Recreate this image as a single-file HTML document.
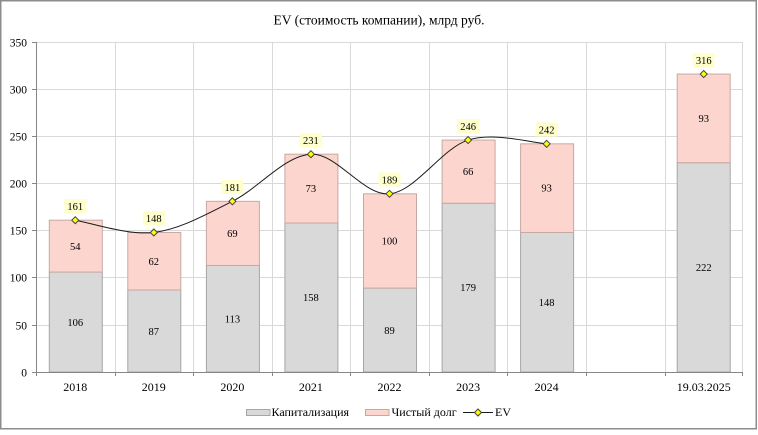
<!DOCTYPE html>
<html><head><meta charset="utf-8"><style>
html,body{margin:0;padding:0;background:#fff;}
svg, svg text{font-family:"Liberation Serif","Times New Roman",Times,"DejaVu Serif",serif;}
</style></head><body>
<svg width="758" height="430" viewBox="0 0 758 430" xmlns="http://www.w3.org/2000/svg" font-family="'Liberation Serif', 'Times New Roman', Times, serif">
<rect x="0.75" y="0.75" width="755.5" height="428" fill="#fff" stroke="#8c8c8c" stroke-width="1.5"/>
<text x="379" y="24.5" font-size="13.5" text-anchor="middle" fill="#000">EV (стоимость компании), млрд руб.</text>
<!-- grid -->
<g stroke="#d9d9d9" stroke-width="1">
<line x1="36" y1="42.5" x2="743" y2="42.5"/>
<line x1="36" y1="89.5" x2="743" y2="89.5"/>
<line x1="36" y1="136.5" x2="743" y2="136.5"/>
<line x1="36" y1="183.5" x2="743" y2="183.5"/>
<line x1="36" y1="230.5" x2="743" y2="230.5"/>
<line x1="36" y1="277.5" x2="743" y2="277.5"/>
<line x1="36" y1="325.5" x2="743" y2="325.5"/>
<line x1="115.5" y1="42" x2="115.5" y2="372"/>
<line x1="193.5" y1="42" x2="193.5" y2="372"/>
<line x1="272.5" y1="42" x2="272.5" y2="372"/>
<line x1="350.5" y1="42" x2="350.5" y2="372"/>
<line x1="429.5" y1="42" x2="429.5" y2="372"/>
<line x1="507.5" y1="42" x2="507.5" y2="372"/>
<line x1="586.5" y1="42" x2="586.5" y2="372"/>
<line x1="665.5" y1="42" x2="665.5" y2="372"/>
<line x1="742.5" y1="42" x2="742.5" y2="372"/>
</g>
<!-- bars -->
<g stroke-width="1">
<rect x="49.3" y="272.06" width="53" height="99.94" fill="#d9d9d9" stroke="#a6a6a6"/>
<rect x="49.3" y="220.2" width="53" height="51.86" fill="#fcd5ce" stroke="#c8a8a4"/>
<rect x="127.8" y="289.97" width="53" height="82.03" fill="#d9d9d9" stroke="#a6a6a6"/>
<rect x="127.8" y="232.46" width="53" height="57.51" fill="#fcd5ce" stroke="#c8a8a4"/>
<rect x="206.4" y="265.46" width="53" height="106.54" fill="#d9d9d9" stroke="#a6a6a6"/>
<rect x="206.4" y="201.34" width="53" height="64.12" fill="#fcd5ce" stroke="#c8a8a4"/>
<rect x="284.9" y="223.03" width="53" height="148.97" fill="#d9d9d9" stroke="#a6a6a6"/>
<rect x="284.9" y="154.2" width="53" height="68.83" fill="#fcd5ce" stroke="#c8a8a4"/>
<rect x="363.5" y="288.09" width="53" height="83.91" fill="#d9d9d9" stroke="#a6a6a6"/>
<rect x="363.5" y="193.8" width="53" height="94.29" fill="#fcd5ce" stroke="#c8a8a4"/>
<rect x="442.1" y="203.23" width="53" height="168.77" fill="#d9d9d9" stroke="#a6a6a6"/>
<rect x="442.1" y="140.06" width="53" height="63.17" fill="#fcd5ce" stroke="#c8a8a4"/>
<rect x="520.6" y="232.46" width="53" height="139.54" fill="#d9d9d9" stroke="#a6a6a6"/>
<rect x="520.6" y="143.83" width="53" height="88.63" fill="#fcd5ce" stroke="#c8a8a4"/>
<rect x="677.2" y="162.69" width="53" height="209.31" fill="#d9d9d9" stroke="#a6a6a6"/>
<rect x="677.2" y="74.06" width="53" height="88.63" fill="#fcd5ce" stroke="#c8a8a4"/>
</g>
<!-- axes -->
<g stroke="#868686" stroke-width="1">
<line x1="36.5" y1="42" x2="36.5" y2="372"/>
<line x1="36" y1="372.5" x2="743" y2="372.5"/>
<line x1="32" y1="42.5" x2="36" y2="42.5"/>
<line x1="32" y1="89.5" x2="36" y2="89.5"/>
<line x1="32" y1="136.5" x2="36" y2="136.5"/>
<line x1="32" y1="183.5" x2="36" y2="183.5"/>
<line x1="32" y1="230.5" x2="36" y2="230.5"/>
<line x1="32" y1="277.5" x2="36" y2="277.5"/>
<line x1="32" y1="325.5" x2="36" y2="325.5"/>
<line x1="32" y1="372.5" x2="36" y2="372.5"/>
<line x1="36.5" y1="372" x2="36.5" y2="376"/>
<line x1="115.5" y1="372" x2="115.5" y2="376"/>
<line x1="193.5" y1="372" x2="193.5" y2="376"/>
<line x1="272.5" y1="372" x2="272.5" y2="376"/>
<line x1="350.5" y1="372" x2="350.5" y2="376"/>
<line x1="429.5" y1="372" x2="429.5" y2="376"/>
<line x1="507.5" y1="372" x2="507.5" y2="376"/>
<line x1="586.5" y1="372" x2="586.5" y2="376"/>
<line x1="665.5" y1="372" x2="665.5" y2="376"/>
<line x1="742.5" y1="372" x2="742.5" y2="376"/>
</g>
<!-- y labels -->
<g font-size="11.5" text-anchor="end" fill="#000">
<text x="27" y="46.5">350</text>
<text x="27" y="93.5">300</text>
<text x="27" y="140.5">250</text>
<text x="27" y="187.5">200</text>
<text x="27" y="234.5">150</text>
<text x="27" y="281.5">100</text>
<text x="27" y="329.5">50</text>
<text x="27" y="376.5">0</text>
</g>
<!-- x labels -->
<g font-size="12" text-anchor="middle" fill="#000">
<text x="75.3" y="391">2018</text>
<text x="153.8" y="391">2019</text>
<text x="232.4" y="391">2020</text>
<text x="310.9" y="391">2021</text>
<text x="389.5" y="391">2022</text>
<text x="468.1" y="391">2023</text>
<text x="546.6" y="391">2024</text>
<text x="703.7" y="391">19.03.2025</text>
</g>
<!-- bar labels -->
<g font-size="10.5" text-anchor="middle" fill="#000">
<text x="75.3" y="326">106</text>
<text x="75.3" y="250">54</text>
<text x="153.8" y="335">87</text>
<text x="153.8" y="265">62</text>
<text x="232.4" y="322.5">113</text>
<text x="232.4" y="237">69</text>
<text x="310.9" y="301">158</text>
<text x="310.9" y="192">73</text>
<text x="389.5" y="334">89</text>
<text x="389.5" y="244.5">100</text>
<text x="468.1" y="291">179</text>
<text x="468.1" y="175">66</text>
<text x="546.6" y="306">148</text>
<text x="546.6" y="191.5">93</text>
<text x="703.7" y="271">222</text>
<text x="703.7" y="122">93</text>
</g>
<!-- EV line -->
<path d="M75.28,220.2 C88.37,222.24 127.64,235.6 153.83,232.46 C180.02,229.32 206.2,214.38 232.39,201.34 C258.58,188.3 284.75,155.46 310.94,154.2 C337.13,152.94 363.31,196.16 389.5,193.8 C415.69,191.44 441.87,148.39 468.06,140.06 C494.25,131.73 533.52,143.2 546.61,143.83" fill="none" stroke="#1a1a1a" stroke-width="1"/>
<!-- markers -->
<g fill="#ffff00" stroke="#404040" stroke-width="1">
<path d="M75.28,216.7 l3.5,3.5 l-3.5,3.5 l-3.5,-3.5z"/>
<path d="M153.83,228.96 l3.5,3.5 l-3.5,3.5 l-3.5,-3.5z"/>
<path d="M232.39,197.84 l3.5,3.5 l-3.5,3.5 l-3.5,-3.5z"/>
<path d="M310.94,150.7 l3.5,3.5 l-3.5,3.5 l-3.5,-3.5z"/>
<path d="M389.5,190.3 l3.5,3.5 l-3.5,3.5 l-3.5,-3.5z"/>
<path d="M468.06,136.56 l3.5,3.5 l-3.5,3.5 l-3.5,-3.5z"/>
<path d="M546.61,140.33 l3.5,3.5 l-3.5,3.5 l-3.5,-3.5z"/>
<path d="M703.72,70.56 l3.5,3.5 l-3.5,3.5 l-3.5,-3.5z"/>
</g>
<!-- EV labels -->
<g fill="#ffffcc">
<rect x="64.3" y="199" width="22" height="14"/>
<rect x="142.8" y="211" width="22" height="14"/>
<rect x="221.4" y="180" width="22" height="14"/>
<rect x="299.9" y="133" width="22" height="14"/>
<rect x="378.5" y="172.5" width="22" height="14"/>
<rect x="457.1" y="119" width="22" height="14"/>
<rect x="535.6" y="122.5" width="22" height="14"/>
<rect x="692.7" y="53" width="22" height="14"/>
</g>
<g font-size="10.5" text-anchor="middle" fill="#000">
<text x="75.3" y="210">161</text>
<text x="153.8" y="222">148</text>
<text x="232.4" y="191">181</text>
<text x="310.9" y="144">231</text>
<text x="389.5" y="183.5">189</text>
<text x="468.1" y="130">246</text>
<text x="546.6" y="133.5">242</text>
<text x="703.7" y="64">316</text>
</g>
<!-- legend -->
<rect x="246.5" y="409.5" width="23.5" height="6" fill="#d9d9d9" stroke="#a6a6a6" stroke-width="1"/>
<text x="271.5" y="416" font-size="12" fill="#000">Капитализация</text>
<rect x="365.5" y="409.5" width="23.5" height="6" fill="#fcd5ce" stroke="#c8a8a4" stroke-width="1"/>
<text x="391.5" y="416" font-size="12" fill="#000">Чистый долг</text>
<line x1="463" y1="412.5" x2="493" y2="412.5" stroke="#1a1a1a" stroke-width="1"/>
<path d="M478,409 l3.5,3.5 l-3.5,3.5 l-3.5,-3.5z" fill="#ffff00" stroke="#404040" stroke-width="1"/>
<text x="495" y="416" font-size="12" fill="#000">EV</text>
</svg>
</body></html>
